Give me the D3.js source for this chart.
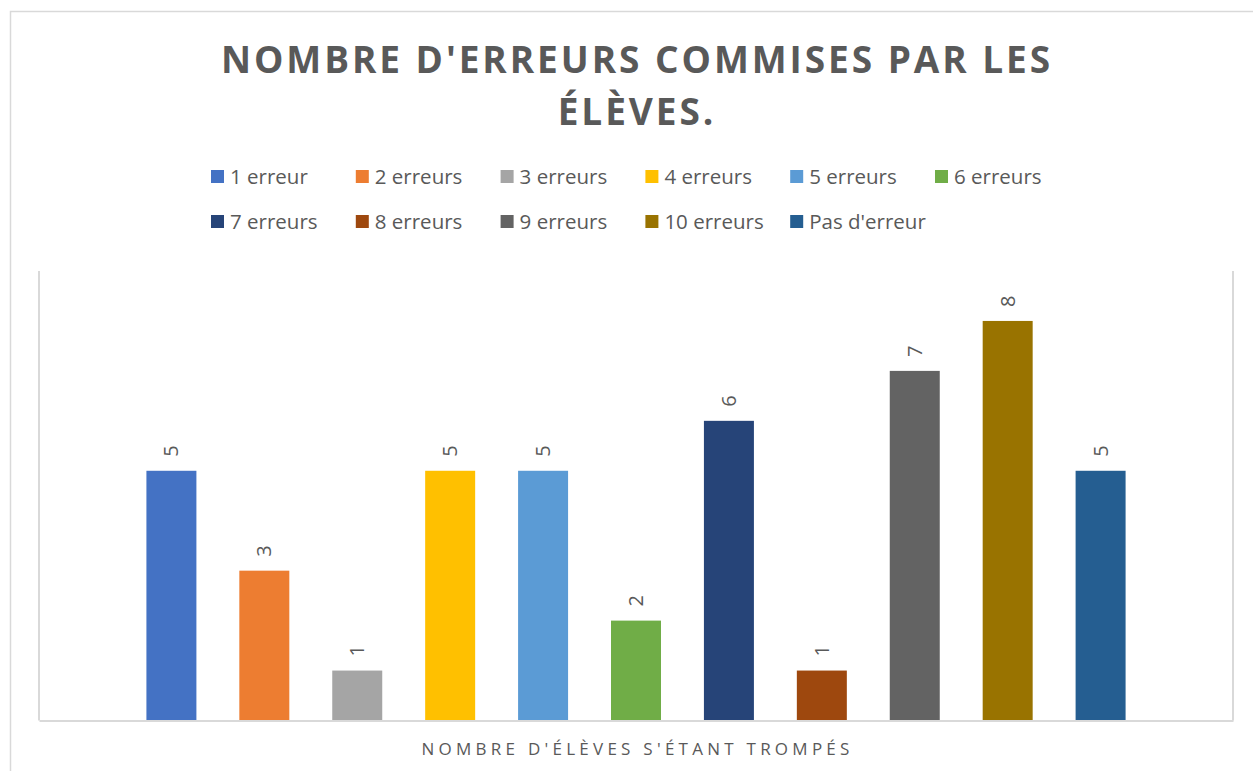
<!DOCTYPE html>
<html>
<head>
<meta charset="utf-8">
<script src="https://cdn.jsdelivr.net/npm/d3@7"></script>
<style>
  body { margin: 0; background: #fff; }
  svg { display: block; font-family: "Open Sans", sans-serif; }
</style>
</head>
<body>
<svg id="drawing_region"></svg>
<script>
// series (one per error count) and their values
const seriesNames = ['1 erreur', '2 erreurs', '3 erreurs', '4 erreurs', '5 erreurs', '6 erreurs',
                     '7 erreurs', '8 erreurs', '9 erreurs', '10 erreurs', "Pas d'erreur"];
const seriesValues = [5, 3, 1, 5, 5, 2, 6, 1, 7, 8, 5];
const seriesColors = ['#4472C4', '#ED7D31', '#A5A5A5', '#FFC000', '#5B9BD5', '#70AD47',
                      '#264478', '#9E480E', '#636363', '#997300', '#255E91'];
const titleLines = ["NOMBRE D'ERREURS COMMISES PAR LES", 'ÉLÈVES.'];
const axisTitle = "NOMBRE D'ÉLÈVES S'ÉTANT TROMPÉS";

const config = {
    width: 1253,
    height: 771,
    plot: {left: 39, right: 1233, top: 271, bottom: 720.5},
    yMax: 9
};

const data = seriesNames.map((name, i) => ({name: name, value: seriesValues[i], color: seriesColors[i]}));

const svg = d3.select('#drawing_region')
    .attr('width', config.width)
    .attr('height', config.height);

// chart border
svg.append('rect')
    .attr('x', 10.5).attr('y', 11.5)
    .attr('width', 1300).attr('height', 900)
    .attr('fill', 'none')
    .attr('stroke', '#d9d9d9')
    .attr('stroke-width', 1.5);

// title
svg.append('g').selectAll('text')
    .data(titleLines)
    .enter()
    .append('text')
    .attr('x', 637)
    .attr('y', (d, i) => 73 + i * 52)
    .attr('text-anchor', 'middle')
    .attr('font-size', '37px')
    .attr('font-weight', 'bold')
    .attr('letter-spacing', '2.95px')
    .attr('fill', '#595959')
    .text(d => d);

// legend
const legend = svg.append('g');
const legendItems = legend.selectAll('g')
    .data(data)
    .enter()
    .append('g')
    .attr('transform', (d, i) => `translate(${211 + (i % 6) * 144.8}, ${i < 6 ? 177 : 222})`);

legendItems.append('rect')
    .attr('x', 0).attr('y', -7)
    .attr('width', 13).attr('height', 13)
    .attr('fill', d => d.color);

legendItems.append('text')
    .attr('x', 19)
    .attr('y', 0)
    .attr('dy', '0.35em')
    .attr('font-size', '20.5px')
    .attr('fill', '#595959')
    .text(d => d.name);

// scales
const x = d3.scaleBand()
    .domain(seriesNames)
    .range([config.plot.left, config.plot.right])
    .paddingInner(0.462)
    .paddingOuter(1.156);

const y = d3.scaleLinear()
    .domain([0, config.yMax])
    .range([config.plot.bottom, config.plot.top]);

// plot area lines
const frame = svg.append('g')
    .attr('stroke', '#d9d9d9')
    .attr('stroke-width', 2);
frame.append('line')
    .attr('x1', config.plot.left).attr('x2', config.plot.left)
    .attr('y1', config.plot.top).attr('y2', config.plot.bottom);
frame.append('line')
    .attr('x1', config.plot.right).attr('x2', config.plot.right)
    .attr('y1', config.plot.top).attr('y2', config.plot.bottom);

// bars
svg.append('g').selectAll('rect')
    .data(data)
    .enter()
    .append('rect')
    .attr('x', d => x(d.name))
    .attr('y', d => y(d.value))
    .attr('width', x.bandwidth())
    .attr('height', d => y(0) - y(d.value))
    .attr('fill', d => d.color);

// x axis line (no ticks, no labels)
svg.append('g')
    .attr('transform', `translate(0, ${config.plot.bottom})`)
    .call(d3.axisBottom(x).tickSize(0).tickFormat(''))
    .call(g => g.select('.domain').attr('stroke', '#d9d9d9').attr('stroke-width', 2));

// data labels, rotated
svg.append('g').selectAll('text')
    .data(data)
    .enter()
    .append('text')
    .attr('transform', d => `translate(${x(d.name) + x.bandwidth() / 2}, ${y(d.value) - 14}) rotate(-90)`)
    .attr('text-anchor', 'start')
    .attr('dy', '0.35em')
    .attr('font-size', '20px')
    .attr('fill', '#595959')
    .text(d => d.value);

// axis title
svg.append('text')
    .attr('x', 637.6)
    .attr('y', 755)
    .attr('text-anchor', 'middle')
    .attr('font-size', '17px')
    .attr('letter-spacing', '4.25px')
    .attr('fill', '#595959')
    .text(axisTitle);
</script>
</body>
</html>
